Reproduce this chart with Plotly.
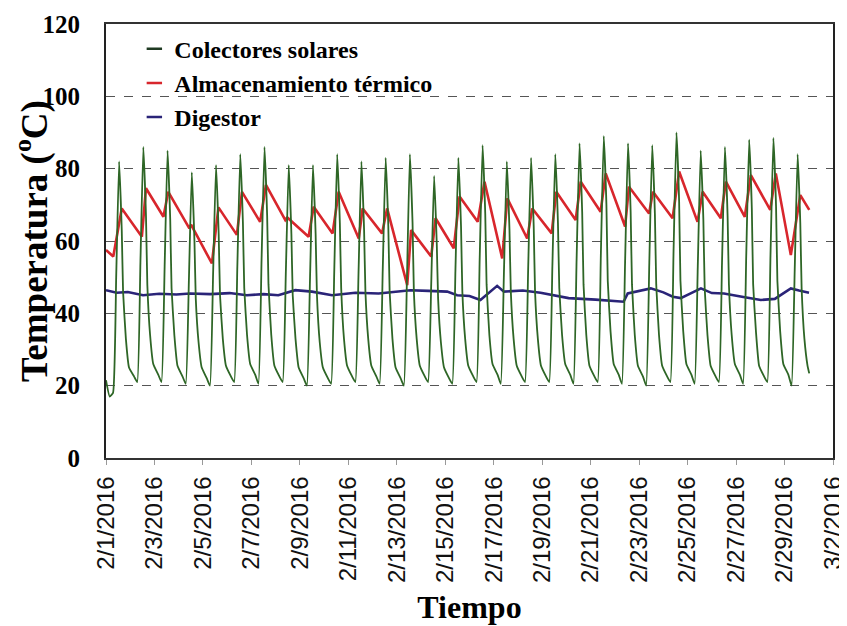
import pandas as pd
import plotly.graph_objects as go

# ---------------- data ----------------
base_date = "2016-02-01"

# x-axis ticks
tick_dates = ["2016-02-01", "2016-02-03", "2016-02-05", "2016-02-07", "2016-02-09",
              "2016-02-11", "2016-02-13", "2016-02-15", "2016-02-17", "2016-02-19",
              "2016-02-21", "2016-02-23", "2016-02-25", "2016-02-27", "2016-02-29",
              "2016-03-02"]
tick_labels = ["2/1/2016", "2/3/2016", "2/5/2016", "2/7/2016", "2/9/2016",
               "2/11/2016", "2/13/2016", "2/15/2016", "2/17/2016", "2/19/2016",
               "2/21/2016", "2/23/2016", "2/25/2016", "2/27/2016", "2/29/2016",
               "3/2/2016"]

# Colectores solares: daily cycle read day by day (fraction of day for each reading)
sol_cycle_times = [0.29, 0.42, 0.54, 0.65, 0.705, 0.82, 0.95, 1.16]
sol_start_t = [0.0, 0.15]
sol_start_v = [21.5, 17.0]
sol_end_t = 29.02
sol_min  = [18, 21, 21, 20.5, 20, 21, 20.5, 21, 20, 20.5, 21, 20.5, 20, 21, 20.5,
            21, 20.5, 21, 21, 20.5, 21, 20.5, 20, 21, 20.5, 21, 20.5, 21, 20]
sol_rise = [50, 54, 53, 49, 51, 53, 55, 51, 50, 52, 51, 52, 50, 48, 52,
            55, 51, 52, 53, 55, 56, 54, 54, 57, 53, 54, 56, 56, 52]
sol_peak = [82, 86, 85, 79, 81, 84, 86, 81, 81, 84, 82, 83, 84, 78, 83,
            86.5, 82, 83, 84, 87, 89, 87, 86.5, 90, 85, 86, 88, 88.5, 84]
sol_a    = [63, 67, 66, 60, 62, 65, 67, 62, 62, 65, 63, 64, 65, 59, 64,
            67.5, 63, 64, 65, 68, 70, 68, 67.5, 71, 66, 67, 69, 69.5, 65]
sol_b    = [46, 48, 47, 44, 45, 47, 48, 45, 45, 47, 46, 46, 46, 44, 46,
            48, 46, 46, 47, 48, 49, 48, 48, 49, 47, 48, 48, 49, 47]
sol_c    = [33, 34, 34, 32, 33, 34, 34, 33, 32, 33, 33, 33, 33, 32, 33,
            34, 33, 33, 34, 34, 35, 34, 34, 35, 34, 34, 35, 35, 33]
sol_d    = [25, 26, 25.5, 25, 25.5, 26, 25.5, 25, 25, 25.5, 25.5, 25, 25.5, 25, 25.5,
            26, 25.5, 25.5, 26, 25.5, 26, 25.5, 25.5, 26, 25.5, 26, 25.5, 26, 25.5]
sol_e    = [22.5, 23, 22.5, 22, 22.5, 23, 22.5, 22, 22, 22.5, 22.5, 22, 22.5, 22, 22.5,
            23, 22.5, 22.5, 23, 22.5, 23, 22.5, 22.5, 23, 22.5, 23, 22.5, 23, 23.4]

# Almacenamiento termico: (day offset, temperature)
alm_t = [0.00, 0.30, 0.65, 1.48, 1.65, 2.37, 2.57, 3.44, 3.51, 4.37, 4.64, 5.40, 5.61,
         6.36, 6.60, 7.40, 7.48, 8.36, 8.57, 9.35, 9.60, 10.43, 10.59, 11.39, 11.60,
         12.43, 12.59, 13.42, 13.60, 14.35, 14.59, 15.34, 15.62, 16.35, 16.56, 17.38,
         17.59, 18.39, 18.58, 19.38, 19.59, 20.41, 20.62, 21.42, 21.58, 22.41, 22.57,
         23.38, 23.65, 24.41, 24.62, 25.37, 25.58, 26.36, 26.61, 27.41, 27.64, 28.26,
         28.65, 29.02]
alm_v = [57.5, 55.7, 69.0, 61.2, 74.6, 66.7, 73.6, 63.5, 64.5, 53.8, 69.3, 61.7, 73.6,
         65.3, 75.5, 65.8, 66.5, 61.2, 69.5, 62.1, 73.6, 60.7, 69.0, 62.1, 69.0,
         47.8, 63.0, 55.7, 66.3, 58.0, 72.3, 65.3, 76.4, 55.2, 71.8, 60.7,
         69.0, 62.1, 73.6, 65.8, 76.4, 68.1, 78.7, 64.0, 75.0, 67.6, 73.6,
         66.3, 79.2, 65.3, 73.6, 66.3, 76.4, 66.7, 78.2, 68.6, 78.7, 56.1,
         72.7, 68.6]

# Digestor: (day offset, temperature)
dig_t = [0.00, 0.44, 0.90, 1.53, 2.20, 2.90, 3.47, 4.30, 5.10, 5.81, 6.50, 7.11, 7.81,
         8.50, 9.33, 10.29, 11.25, 11.94, 12.56, 13.30, 14.08, 14.49, 15.00, 15.45,
         16.14, 16.42, 17.20, 17.93, 18.50, 19.09, 20.20, 21.36, 21.53, 22.48, 23.00,
         23.39, 23.72, 24.55, 25.00, 25.50, 26.30, 27.02, 27.60, 28.26, 28.60, 29.01]
dig_v = [46.4, 45.7, 45.9, 45.0, 45.4, 45.2, 45.5, 45.3, 45.6, 45.0, 45.3, 45.0, 46.4,
         46.0, 45.0, 45.7, 45.5, 46.0, 46.4, 46.2, 46.0, 45.0, 44.8, 43.7,
         47.6, 46.0, 46.3, 45.7, 45.0, 44.2, 43.8, 43.2, 45.5, 46.9, 45.8,
         44.6, 44.2, 46.9, 45.6, 45.5, 44.5, 43.7, 44.0, 46.9, 46.3, 45.7]

series_names = ["Colectores solares", "Almacenamiento térmico", "Digestor"]

# ---------------- build ----------------
t0 = pd.Timestamp(base_date)


def to_dates(days):
    return [t0 + pd.to_timedelta(d, unit="D") for d in days]


sol_t, sol_v = list(sol_start_t), list(sol_start_v)
daily = list(zip(sol_min, sol_rise, sol_peak, sol_a, sol_b, sol_c, sol_d, sol_e))
for day, vals in enumerate(daily):
    for off, v in zip(sol_cycle_times, vals):
        sol_t.append(min(day + off, sol_end_t))
        sol_v.append(v)

c_green = "#2e6626"
c_green_leg = "#1f3a22"
c_red = "#d8262c"
c_blue = "#2a2478"

fig = go.Figure()
fig.add_trace(go.Scatter(x=to_dates(alm_t), y=alm_v, mode="lines",
                         line=dict(color=c_red, width=2.6), showlegend=False))
fig.add_trace(go.Scatter(x=to_dates(dig_t), y=dig_v, mode="lines",
                         line=dict(color=c_blue, width=2.6), showlegend=False))
fig.add_trace(go.Scatter(x=to_dates(sol_t), y=sol_v, mode="lines",
                         line=dict(color=c_green, width=1.8, shape="spline", smoothing=0.4),
                         showlegend=False))

# legend entries (short dash symbols)
for name, col in zip(series_names, [c_green_leg, c_red, c_blue]):
    fig.add_trace(go.Scatter(x=[None], y=[None], mode="markers", name=name,
                             marker=dict(symbol="line-ew-open", size=11,
                                         color=col, line=dict(width=2.5, color=col))))

serif = "Liberation Serif"
# margins compensate for the 8px default page margin around the figure
fig.update_layout(
    width=847, height=626,
    margin=dict(l=98, r=22, t=16, b=176),
    paper_bgcolor="white", plot_bgcolor="white",
    legend=dict(x=0.039, y=0.994, xanchor="left", yanchor="top",
                bgcolor="rgba(0,0,0,0)",
                font=dict(family=serif, size=24, color="black", weight="bold")),
)
fig.update_yaxes(range=[0, 120], dtick=20, showgrid=True, gridcolor="#555",
                 griddash="dash", gridwidth=1.2, zeroline=False, automargin=False,
                 showline=True, mirror=True, linecolor="#222", linewidth=2,
                 ticks="", ticklabelstandoff=19,
                 tickfont=dict(family=serif, size=25, color="black", weight="bold"),
                 title=dict(text="Temperatura (<sup>o</sup>C)", standoff=0,
                            font=dict(family=serif, size=37, color="black", weight="bold")))
fig.update_xaxes(type="date", range=[t0, pd.Timestamp("2016-03-02")],
                 tickvals=to_dates([(pd.Timestamp(d) - t0).days for d in tick_dates]),
                 ticktext=tick_labels, tickangle=-90, ticklabeloverflow="allow",
                 showgrid=False, zeroline=False, automargin=False,
                 showline=True, mirror=True, linecolor="#333", linewidth=1.5,
                 ticks="outside", ticklen=5, tickcolor="#999", ticklabelstandoff=2,
                 tickfont=dict(family="Liberation Sans", size=24, color="#111"),
                 title=dict(text="Tiempo", standoff=13,
                            font=dict(family=serif, size=32, color="black", weight="bold")))

fig.write_html("out.html")
